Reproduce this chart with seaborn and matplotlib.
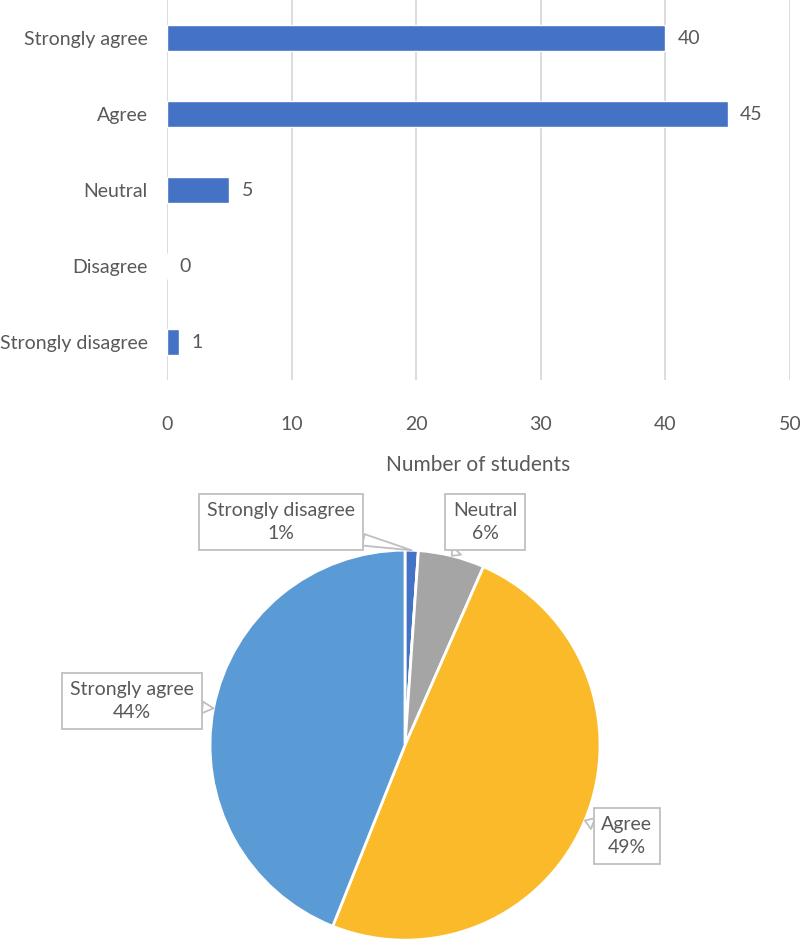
import numpy as np
import pandas as pd
import seaborn as sns
import matplotlib.pyplot as plt

# survey responses
categories = ['Strongly agree', 'Agree', 'Neutral', 'Disagree', 'Strongly disagree']
counts = [40, 45, 5, 0, 1]

# pie goes clockwise from 12 o'clock in Excel's series order
pie_labels = ['Strongly disagree', 'Disagree', 'Neutral', 'Agree', 'Strongly agree']
pie_counts = [1, 0, 5, 45, 40]
pie_pct = ['1%', '0%', '6%', '49%', '44%']
pie_colors = ['#4472C4', '#ED7D31', '#A5A5A5', '#FBBA2A', '#5B9BD5']

sns.set_theme(style='white')
plt.rcParams['font.family'] = ['Lato', 'DejaVu Sans']
text_col = '#595959'
fs = 14

fig = plt.figure(figsize=(8, 9.43), dpi=100)

# --- bar chart ---
ax = fig.add_axes([0.20875, 0.597, 0.77875, 0.403])
df = pd.DataFrame({'category': categories, 'count': counts})
sns.barplot(data=df, x='count', y='category', orient='h', color='#4472C4',
            saturation=1, width=0.35, ax=ax)
ax.bar_label(ax.containers[0], padding=9, fontsize=fs, color=text_col)
ax.set_xlim(0, 50)
ax.set_ylim(4.5, -0.5)
ax.set_xticks(range(0, 51, 10))
ax.grid(axis='x', color='#D9D9D9', linewidth=1.3)
ax.set_axisbelow(True)
for s in ax.spines.values():
    s.set_visible(False)
ax.tick_params(axis='x', length=0, pad=26, labelsize=fs, labelcolor=text_col)
ax.tick_params(axis='y', length=0, pad=14, labelsize=fs, labelcolor=text_col)
ax.set_xlabel('Number of students', fontsize=15, color=text_col, labelpad=16)
ax.set_ylabel('')

# --- pie chart ---
pax = fig.add_axes([0.2625, 0.003, 0.4875, 0.4136])
wedges, _ = pax.pie(pie_counts, colors=pie_colors, startangle=90, counterclock=False,
                    wedgeprops=dict(edgecolor='white', linewidth=2), radius=1)
pax.set_xlim(-1, 1)
pax.set_ylim(-1, 1)
pax.set_aspect('equal')

# where each callout box sits (relative to pie radius)
box_pos = {
    'Strongly disagree': (-0.636, 1.144),
    'Neutral': (0.41, 1.144),
    'Agree': (1.138, -0.467),
    'Strongly agree': (-1.40, 0.226),
}
for w, lab, pct in zip(wedges, pie_labels, pie_pct):
    if lab not in box_pos:
        continue
    ang = np.deg2rad((w.theta1 + w.theta2) / 2)
    tip = (np.cos(ang), np.sin(ang))
    pax.annotate(f'{lab}\n{pct}', xy=tip, xytext=box_pos[lab],
                 ha='center', va='center', fontsize=fs, color=text_col,
                 linespacing=1.45, annotation_clip=False,
                 bbox=dict(boxstyle='square,pad=0.4', fc='white', ec='#BFBFBF', lw=1.3),
                 arrowprops=dict(arrowstyle='wedge,tail_width=0.6,shrink_factor=0.5',
                                 fc='white', ec='#BFBFBF', lw=1.3, shrinkA=0, shrinkB=0))

fig.savefig('out.png', dpi=100)
